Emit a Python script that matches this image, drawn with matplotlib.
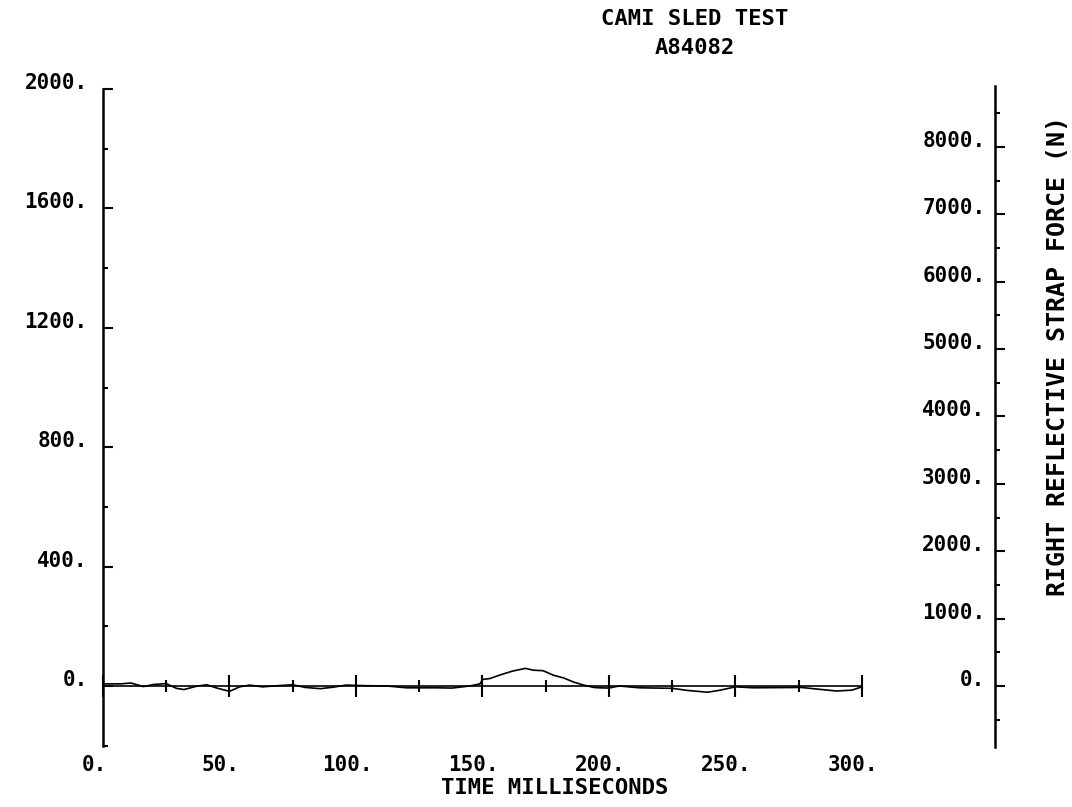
import matplotlib.pyplot as plt
from matplotlib.ticker import MultipleLocator
import matplotlib.transforms as mtransforms

# === Data ===
time_ms = [0, 7, 11, 16, 20, 25, 29, 32, 37, 41, 45, 50, 54, 58, 63, 69, 75, 80, 86,
           91, 96, 104, 112, 120, 125, 131, 138, 145, 149, 150, 153, 157, 162, 167,
           170, 174, 178, 182, 186, 190, 194, 196, 200, 204, 212, 225, 231, 239, 244,
           250, 257, 276, 283, 290, 296, 300]
strap_force_n = [31, 31, 44, -9, 22, 35, -35, -53, -4, 18, -31, -80, -13, 13, -13, 4, 18,
                 -22, -40, -18, 13, 4, 0, -27, -27, -27, -31, 0, 31, 97, 111, 164, 222,
                 261, 235, 226, 160, 120, 58, 13, -22, -27, -31, 0, -27, -35, -66, -93,
                 -62, -13, -27, -22, -49, -75, -62, -13]

x_ticks = [0, 50, 100, 150, 200, 250, 300]
x_labels = ['0.', '50.', '100.', '150.', '200.', '250.', '300.']
left_ticks = [0, 400, 800, 1200, 1600, 2000]
left_labels = ['0.', '400.', '800.', '1200.', '1600.', '2000.']
right_ticks = [0, 1000, 2000, 3000, 4000, 5000, 6000, 7000, 8000]
right_labels = ['0.', '1000.', '2000.', '3000.', '4000.', '5000.', '6000.', '7000.', '8000.']

title_lines = ['CAMI SLED TEST', 'A84082']
x_title = 'TIME MILLISECONDS'
right_title = 'RIGHT REFLECTIVE STRAP FORCE (N)'

plt.rcParams['font.family'] = ['DejaVu Sans Mono']
plt.rcParams['font.weight'] = 'bold'
FS = 15

fig = plt.figure(figsize=(10.72, 8.07), dpi=100)

# === Left axis (also carries the time axis at zero) ===
ax = fig.add_axes([0.09608, 0.07596, 0.70802, 0.81375])
ax.set_xlim(0, 300)
ax.set_ylim(-200, 2000)
for s in ['top', 'right']:
    ax.spines[s].set_visible(False)
ax.spines['left'].set_linewidth(1.8)
ax.spines['bottom'].set_position(('data', 0))
ax.spines['bottom'].set_linewidth(1.2)

ax.set_xticks(x_ticks, x_labels)
ax.xaxis.set_minor_locator(MultipleLocator(25))
ax.tick_params(axis='x', which='major', direction='inout', length=16, width=1.5,
               pad=42, labelsize=FS)
ax.tick_params(axis='x', which='minor', direction='inout', length=8, width=1.5)
shift = mtransforms.ScaledTranslation(-0.09, 0, fig.dpi_scale_trans)
for lab in ax.get_xticklabels():
    lab.set_transform(lab.get_transform() + shift)

ax.set_yticks(left_ticks, left_labels)
ax.yaxis.set_minor_locator(MultipleLocator(200))
ax.tick_params(axis='y', which='major', direction='in', length=7, width=1.5,
               pad=11, labelsize=FS)
ax.tick_params(axis='y', which='minor', direction='in', length=3.6, width=1.5)
for lab in ax.get_yticklabels():
    lab.set_verticalalignment('baseline')

# === Right axis (strap force, N) ===
ax2 = fig.add_axes([0.09608, 0.07485, 0.70802, 0.8181])
ax2.patch.set_visible(False)
ax2.set_xlim(0, 300)
ax2.set_ylim(-900, 8900)
for s in ['top', 'right', 'bottom']:
    ax2.spines[s].set_visible(False)
ax2.spines['left'].set_position(('axes', (995 - 103) / 759))
ax2.spines['left'].set_linewidth(1.8)
ax2.xaxis.set_visible(False)
ax2.set_yticks(right_ticks, right_labels)
ax2.yaxis.set_minor_locator(MultipleLocator(500))
ax2.tick_params(axis='y', which='major', direction='in', length=7, width=1.5,
                pad=7, labelsize=FS)
ax2.tick_params(axis='y', which='minor', direction='in', length=3.6, width=1.5)
for lab in ax2.get_yticklabels():
    lab.set_verticalalignment('baseline')

ax2.plot(time_ms, strap_force_n, color='black', linewidth=1.2)

# === Texts ===
fig.text(695 / 1072, 1 - 19 / 807, title_lines[0], ha='center', va='center', fontsize=16)
fig.text(695 / 1072, 1 - 48 / 807, title_lines[1], ha='center', va='center', fontsize=16)
fig.text(555 / 1072, 1 - 788 / 807, x_title, ha='center', va='center', fontsize=16)
fig.text(1058 / 1072, 1 - 356 / 807, right_title, ha='center', va='center',
         rotation=90, fontsize=18)

plt.savefig('out.png', dpi=100)
